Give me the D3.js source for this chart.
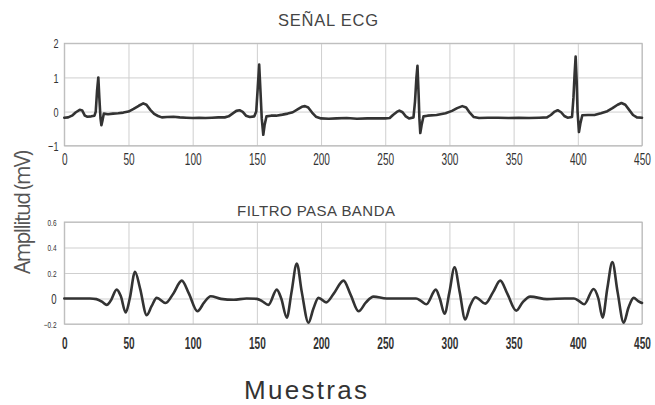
<!DOCTYPE html>
<html>
<head>
<meta charset="utf-8">
<script src="https://cdn.jsdelivr.net/npm/d3@7"></script>
<style>
  body { margin: 0; background: #fff; }
  svg { display: block; }
</style>
</head>
<body>
<div id="chart-area"></div>
<script>
const xTicks = [0, 50, 100, 150, 200, 250, 300, 350, 400, 450];
const ecgTicks = [-1, 0, 1, 2];
const filtTicks = [-0.2, 0, 0.2, 0.4, 0.6];

const ecgSamples = [0, 3, 6, 9, 12, 14, 16, 18, 21, 23.5, 24.5, 25.5, 26.5, 27.3, 28.2, 28.9, 29.8, 30.8,
  34, 38, 42, 46, 50, 54, 58, 61.5, 64, 67, 70, 73, 76, 80, 85, 90, 95, 100, 105, 110, 115, 120, 125,
  128, 131, 134, 136.5, 139, 141.5, 144.5, 148, 149.5, 150.7, 151.8, 152.8, 153.8, 155, 156, 157.5,
  161, 165, 170, 174, 178, 182, 185, 187.5, 190, 193, 196, 200, 206, 212, 220, 228, 236, 244, 250,
  253.5, 256, 259, 261, 263.5, 266, 268.5, 272, 273.2, 274.3, 275.1, 276, 276.6, 277.3, 278.3, 279.8,
  283, 290, 297, 302, 306, 310, 313, 316, 319, 323, 330, 338, 346, 354, 362, 370, 376, 379, 382,
  384.3, 387, 389.5, 392, 395.5, 396.6, 397.5, 398.3, 399.1, 399.8, 400.9, 402, 403.5, 408, 413,
  418, 423, 427, 431, 434, 437, 440, 443, 446, 450];
const ecgValues = [-0.18, -0.17, -0.12, -0.02, 0.05, 0.03, -0.12, -0.15, -0.14, -0.12, 0.0, 0.6, 1.0, 0.4, -0.2, -0.4, -0.25, -0.06,
  -0.08, -0.06, -0.05, -0.03, 0.0, 0.08, 0.17, 0.24, 0.2, 0.05, -0.07, -0.13, -0.17, -0.16, -0.15, -0.17, -0.18, -0.19, -0.18, -0.19, -0.18, -0.17, -0.17,
  -0.14, -0.06, 0.02, 0.04, -0.01, -0.12, -0.16, -0.14, 0.0, 0.7, 1.38, 0.6, -0.2, -0.68, -0.4, -0.14,
  -0.12, -0.12, -0.09, -0.06, -0.02, 0.07, 0.14, 0.16, 0.12, -0.03, -0.15, -0.2, -0.21, -0.2, -0.19, -0.21, -0.2, -0.2, -0.2,
  -0.19, -0.1, -0.01, 0.03, -0.02, -0.14, -0.2, -0.17, 0.3, 1.0, 1.34, 0.5, -0.2, -0.63, -0.4, -0.14,
  -0.12, -0.1, -0.05, 0.02, 0.1, 0.16, 0.12, -0.04, -0.16, -0.19, -0.18, -0.18, -0.19, -0.18, -0.19, -0.18, -0.17, -0.1, 0.0,
  0.04, -0.02, -0.13, -0.18, -0.16, 0.4, 1.1, 1.61, 0.9, 0.0, -0.6, -0.35, -0.11, -0.1, -0.1,
  -0.05, 0.01, 0.1, 0.2, 0.25, 0.2, 0.05, -0.1, -0.17, -0.18];

const filtSamples = [0, 10, 20, 25, 30, 33, 36, 40.8, 44, 47.8, 51, 55.1, 59, 64.2, 68, 72, 79, 85, 91.5, 97,
  103.7, 109, 114, 122, 132, 142, 150, 154, 159, 165.5, 169, 173.3, 177, 181.1, 185, 190.2, 194, 198,
  204, 210, 217.5, 223, 229.2, 235, 240.8, 251, 262, 274, 278, 282, 289.4, 292.5, 296.2, 300, 304, 308,
  312.3, 316, 320.3, 327.9, 334, 339.6, 345, 352, 357, 363, 376, 390, 397, 401, 405, 412.3, 416, 419.3,
  423, 426.9, 431, 435.7, 439.5, 443.5, 447, 450];
const filtValues = [0, 0, 0, -0.005, -0.03, -0.05, -0.02, 0.07, 0.02, -0.11, 0.0, 0.21, 0.08, -0.13, -0.06, 0.005, -0.035, 0.04, 0.14, 0.04,
  -0.1, -0.03, 0.018, -0.003, -0.01, 0.0, -0.003, -0.02, -0.05, 0.07, 0.0, -0.15, 0.05, 0.275, 0.05, -0.19, -0.08, 0.005,
  -0.03, 0.04, 0.14, 0.03, -0.1, -0.03, 0.015, 0.0, 0.0, 0.0, -0.02, -0.045, 0.07, 0.0, -0.12, 0.05, 0.245, 0.05,
  -0.165, -0.06, 0.01, -0.04, 0.05, 0.14, 0.04, -0.095, -0.03, 0.015, -0.005, 0.0, 0.0, -0.02, -0.045, 0.075, 0.0, -0.15,
  0.08, 0.285, 0.05, -0.19, -0.07, 0.005, -0.02, -0.035];

const chartSize = { width: 655, height: 405 };
const plotLeft = 64.3, plotRight = 642;
const sans = "'Liberation Sans', Arial, sans-serif";

const svg = d3.select("#chart-area").append("svg")
  .attr("width", chartSize.width)
  .attr("height", chartSize.height);

const x = d3.scaleLinear().domain([0, 450]).range([plotLeft, plotRight]);

const drawPanel = (p) => {
  const y = d3.scaleLinear().domain(p.domain).range([p.bottom, p.top]);
  const g = svg.append("g");

  // grid
  g.append("g")
    .attr("transform", `translate(0, ${p.bottom})`)
    .call(d3.axisBottom(x).tickValues(xTicks).tickSize(-(p.bottom - p.top)).tickFormat(""))
    .call(a => a.select(".domain").remove())
    .selectAll("line").attr("stroke", "#cfcfcf");
  g.append("g")
    .attr("transform", `translate(${plotLeft}, 0)`)
    .call(d3.axisLeft(y).tickValues(p.ticks).tickSize(-(plotRight - plotLeft)).tickFormat(""))
    .call(a => a.select(".domain").remove())
    .selectAll("line").attr("stroke", "#cfcfcf");

  g.append("rect")
    .attr("x", plotLeft).attr("y", p.top)
    .attr("width", plotRight - plotLeft).attr("height", p.bottom - p.top)
    .attr("fill", "none").attr("stroke", "#b8b8b8");

  // x tick labels
  const xAxis = g.append("g")
    .attr("transform", `translate(0, ${p.bottom})`)
    .call(d3.axisBottom(x).tickValues(xTicks).tickSize(0))
    .call(a => a.select(".domain").remove());
  xAxis.selectAll("text")
    .attr("y", p.xLabelY).attr("dy", 0)
    .attr("transform", "scale(0.63,1)")
    .attr("fill", "#333")
    .style("font-family", sans)
    .style("font-size", "16px")
    .style("font-weight", p.xBold ? "bold" : "normal");

  // y tick labels
  const yAxis = g.append("g")
    .attr("transform", `translate(${p.yLabelX}, 0)`)
    .call(d3.axisLeft(y).tickValues(p.ticks).tickSize(0).tickPadding(0).tickFormat(d => d3.format("")(d)))
    .call(a => a.select(".domain").remove());
  yAxis.selectAll("text")
    .attr("dy", "0.36em")
    .attr("transform", d => `scale(${p.yScaleX(d)},1)`)
    .attr("x", 0)
    .attr("fill", "#333")
    .style("font-family", sans)
    .style("font-size", d => p.yFont(d) + "px");

  g.append("text")
    .text(p.title)
    .attr("x", p.titleX).attr("y", p.titleY)
    .attr("text-anchor", "middle")
    .attr("textLength", p.titleLen)
    .attr("fill", "#444")
    .style("font-family", sans)
    .style("font-size", p.titleFont + "px");

  const line = d3.line()
    .x(i => x(p.xs[i]))
    .y(i => y(p.ys[i]))
    .curve(p.curve);

  g.append("path")
    .attr("d", line(d3.range(p.xs.length)))
    .attr("fill", "none")
    .attr("stroke", "#333")
    .attr("stroke-width", 2.6)
    .attr("stroke-linejoin", "round")
    .attr("stroke-linecap", "round");
};

drawPanel({
  top: 43.3, bottom: 145.7, domain: [-1, 2], ticks: ecgTicks,
  xs: ecgSamples, ys: ecgValues, curve: d3.curveLinear,
  xLabelY: 19, xBold: false,
  yLabelX: 58.5, yFont: () => 13, yScaleX: () => 0.7,
  title: "SEÑAL ECG", titleX: 328, titleY: 25.5, titleLen: 100, titleFont: 16.5
});

drawPanel({
  top: 222, bottom: 324, domain: [-0.2, 0.6], ticks: filtTicks,
  xs: filtSamples, ys: filtValues, curve: d3.curveMonotoneX,
  xLabelY: 25, xBold: true,
  yLabelX: 56.5, yFont: d => d === 0 ? 15 : 9, yScaleX: d => d === 0 ? 0.64 : 0.72,
  title: "FILTRO PASA BANDA", titleX: 316, titleY: 215.5, titleLen: 158, titleFont: 15
});

svg.append("text")
  .text("Ampllitud (mV)")
  .attr("transform", "translate(29.5, 212) rotate(-90)")
  .attr("text-anchor", "middle")
  .attr("textLength", 124)
  .attr("fill", "#555")
  .style("font-family", "'Open Sans', sans-serif")
  .style("font-size", "21px");

svg.append("text")
  .text("Muestras")
  .attr("x", 305.5).attr("y", 398.5)
  .attr("text-anchor", "middle")
  .attr("textLength", 123)
  .attr("fill", "#333")
  .style("font-family", sans)
  .style("font-size", "26px");
</script>
</body>
</html>
